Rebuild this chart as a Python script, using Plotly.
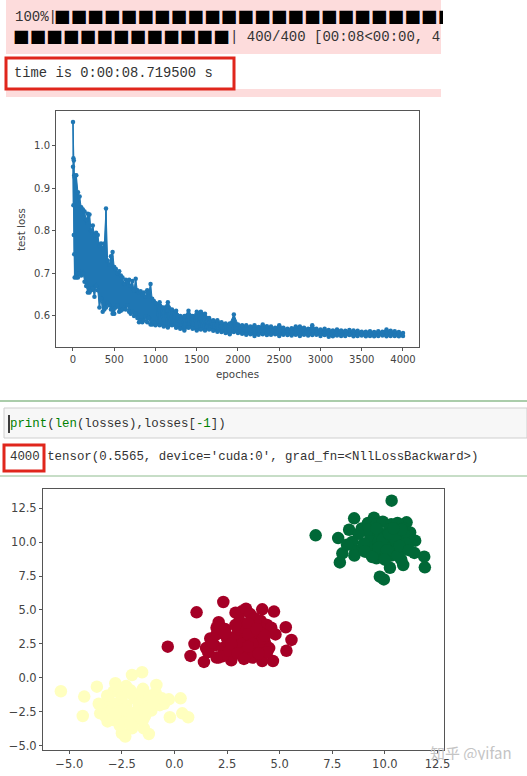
import plotly.graph_objects as go

W, H = 527, 776

loss_epochs = [0, 5, 10, 15, 20, 40, 60, 80, 100, 120, 140, 160, 180, 200, 220, 240, 260, 280, 300, 320,
               340, 360, 380, 400, 420, 440, 460, 480, 500, 520, 540, 560, 580, 600, 620, 640, 660, 680, 700, 720,
               740, 760, 780, 800, 820, 840, 860, 880, 900, 920, 940, 960, 980, 1000,
               1050, 1100, 1150, 1200, 1250, 1300, 1350, 1400, 1450, 1500, 1550, 1600, 1650, 1700, 1750, 1800,
               1850, 1900, 1950, 2000, 2050, 2100, 2150, 2200, 2250, 2300, 2350, 2400, 2450, 2500, 2550, 2600,
               2650, 2700, 2750, 2800, 2850, 2900, 2950, 3000, 3050, 3100, 3150, 3200, 3250, 3300, 3350, 3400,
               3450, 3500, 3550, 3600, 3650, 3700, 3750, 3800, 3850, 3900, 3950, 4000]
loss_high = [1.055, .97, .965, .93, .925, .93, .89, .88, .855, .85, .845, .825, .84, .838, .80, .812, .79, .795, .79, .765,
             .77, .76, .77, .852, .73, .72, .74, .75, .715, .71, .70, .705, .695, .69, .675, .685, .68, .685, .67, .682,
             .66, .687, .66, .655, .658, .65, .655, .645, .66, .655, .675, .64, .635, .63,
             .632, .62, .632, .615, .612, .60, .60, .612, .60, .61, .61, .605, .595, .59, .59, .585,
             .582, .582, .603, .58, .578, .578, .575, .578, .574, .58, .576, .575, .572, .578, .572, .57,
             .571, .575, .575, .572, .57, .578, .57, .568, .57, .567, .566, .568, .566, .565, .567, .566,
             .565, .563, .563, .564, .562, .564, .563, .568, .565, .564, .562, .56]
loss_low = [.95, .86, .79, .745, .69, .69, .69, .70, .695, .70, .68, .67, .655, .655, .66, .665, .645, .67, .66, .62,
            .64, .61, .615, .62, .63, .625, .615, .605, .605, .62, .625, .61, .612, .615, .62, .615, .625, .61, .605, .61,
            .60, .605, .595, .585, .59, .585, .59, .598, .585, .595, .58, .58, .585, .578,
            .578, .575, .573, .578, .572, .57, .566, .572, .57, .566, .568, .566, .568, .565, .563, .562,
            .56, .557, .562, .56, .558, .556, .557, .553, .556, .557, .555, .556, .557, .553, .556, .555,
            .554, .556, .553, .556, .554, .555, .556, .553, .555, .551, .552, .554, .553, .553, .555, .552,
            .553, .554, .552, .553, .552, .553, .554, .552, .553, .553, .552, .553]

loss_ticks_x = [0, 500, 1000, 1500, 2000, 2500, 3000, 3500, 4000]
loss_ticks_y = [0.6, 0.7, 0.8, 0.9, 1.0]

# --- the three clusters ---
yellow_x = [-5.4, -4.36, -4.29, -3.69, -2.81, -2.02, -1.54, -.86, .29, -.27, -.22, .37, .65, -1.22, -1.46, -2.34, -2.5, -2.02, -3.18, -3.53,
            -3.4, -3.1, -2.9, -2.7, -2.5, -2.3, -2.1, -1.9, -1.7, -1.5, -1.3, -1.1, -.9, -.7, -.5,
            -3.3, -3.0, -2.8, -2.6, -2.4, -2.2, -2.0, -1.8, -1.6, -1.4, -1.2, -1.0, -.6,
            -3.6, -3.2, -2.9, -2.6, -2.3, -2.0, -1.7, -1.4, -2.8, -2.4, -2.1, -1.8, -1.5]
yellow_y = [-.98, -2.8, -1.37, -.64, -.39, .22, .42, -.51, -1.5, -1.57, -2.89, -2.6, -2.89, -4.12, -3.7, -4.31, -4.07, -3.7, -3.2, -2.6,
            -2.2, -1.7, -1.0, -.7, -1.4, -2.0, -.9, -1.5, -2.2, -.8, -1.6, -2.4, -1.1, -2.0, -1.9,
            -2.8, -2.4, -1.9, -2.9, -2.3, -3.0, -2.6, -3.1, -1.1, -2.8, -1.3, -1.8, -1.5,
            -1.9, -1.3, -3.1, -3.5, -.6, -1.2, -1.9, -2.3, -2.6, -3.3, -3.4, -2.6, -3.1]

red_x = [-.32, 1.05, 2.32, .76, .95, 1.4, 4.73, 4.17, 5.29, 5.56, 5.32, 4.68, 4.17,
         2.1, 2.0, 2.4, 2.9, 3.2, 3.4, 3.6, 3.8, 4.1, 4.4, 4.2, 4.6, 4.8,
         1.5, 1.7, 1.9, 2.1, 2.3, 2.5, 2.7, 2.9, 3.1, 3.3, 3.5, 3.7, 3.9, 4.1, 4.3, 4.5,
         1.6, 1.8, 2.0, 2.3, 2.6, 2.8, 3.0, 3.2, 3.4, 3.6, 3.8, 4.0, 4.2, 4.4,
         2.0, 2.4, 2.7, 3.1, 3.5, 3.5, 3.9, 4.3, 3.0, 3.3, 3.7, 4.0, 3.5, 2.9]
red_y = [2.3, 4.83, 5.59, 1.62, 2.5, 1.18, 4.88, 5.05, 3.73, 2.8, 2.0, 1.25, 1.25,
         4.1, 3.7, 3.6, 4.8, 4.9, 5.1, 4.7, 4.4, 4.2, 3.9, 3.6, 3.7, 3.2,
         2.2, 2.9, 2.4, 1.5, 2.2, 2.9, 1.3, 2.3, 3.1, 2.0, 2.7, 1.5, 2.2, 3.3, 2.6, 2.2,
         1.9, 2.6, 3.2, 1.6, 2.0, 3.0, 3.6, 2.5, 3.4, 1.9, 3.0, 2.5, 2.9, 1.9,
         1.5, 3.3, 2.5, 4.2, 4.0, 3.2, 3.6, 3.1, 1.8, 1.4, 2.5, 1.8, 2.3, 3.9]

green_x = [10.32, 6.71, 7.78, 8.54, 9.48, 11.03, 7.98, 7.86, 11.87, 11.9, 10.87, 10.24, 9.95, 9.76, 11.44, 10.78, 9.6,
           8.3, 8.45, 8.6, 8.2, 9.1, 8.9, 9.2, 9.6, 9.9, 10.3, 10.6, 10.9, 11.2, 11.1, 11.0, 11.4, 10.7, 10.3, 9.9,
           9.5, 9.3, 9.3, 9.5, 9.8, 10.1, 10.4, 10.7, 10.5, 10.0, 9.7, 9.2, 8.95, 9.35, 10.9, 10.2, 9.9, 10.5,
           8.55, 9.0, 9.7, 10.1, 10.6, 11.0, 10.2, 9.6, 10.8, 9.05, 10.4, 8.75, 9.4, 10.0, 10.7, 11.15]
green_y = [13.04, 10.49, 10.29, 11.74, 11.79, 11.45, 9.17, 8.5, 8.92, 8.14, 8.31, 8.11, 7.25, 7.45, 10.1, 8.7, 8.8,
           10.9, 10.0, 9.3, 9.8, 9.3, 11.0, 11.4, 11.3, 11.5, 11.3, 11.4, 11.0, 10.7, 10.2, 9.6, 9.2, 9.3, 9.0, 9.2,
           9.3, 9.9, 10.5, 10.9, 10.6, 10.2, 10.6, 10.2, 9.8, 9.7, 10.0, 10.9, 9.6, 9.05, 10.6, 10.9, 10.2, 10.2,
           9.0, 9.9, 9.6, 9.4, 9.0, 9.9, 10.6, 11.0, 10.9, 9.3, 11.0, 10.6, 8.9, 8.7, 9.7, 9.4]

scatter_ticks = [-5.0, -2.5, 0.0, 2.5, 5.0, 7.5, 10.0, 12.5]
scatter_ticks_y = [-5.0, -2.5, 0.0, 2.5, 5.0, 7.5, 10.0, 12.5]

# zigzag between high and low to get the solid noisy band
zig_x, zig_y = [], []
for ep, hi, lo in zip(loss_epochs, loss_high, loss_low):
    zig_x += [ep, ep]
    zig_y += [hi, lo]


def px(x):
    return x / W


def py(y):
    return 1 - y / H


fig = go.Figure()
# band under the zigzag so that no white shows between the sparse later pairs
fig.add_trace(go.Scatter(x=loss_epochs + loss_epochs[::-1], y=loss_high + loss_low[::-1], mode="lines", fill="toself",
                         xaxis="x", yaxis="y", fillcolor="#1f77b4", line=dict(color="#1f77b4", width=1)))
fig.add_trace(go.Scatter(x=zig_x, y=zig_y, mode="lines+markers", xaxis="x", yaxis="y",
                         line=dict(color="#1f77b4", width=1.5), marker=dict(color="#1f77b4", size=4.5)))
for xs, ys, col in [(yellow_x, yellow_y, "#ffffbf"), (red_x, red_y, "#a50026"), (green_x, green_y, "#006837")]:
    fig.add_trace(go.Scatter(x=xs, y=ys, mode="markers", xaxis="x2", yaxis="y2",
                             marker=dict(color=col, size=12.5)))

# automargin off: the default template has it on and it shrinks the page
axis_style = dict(showgrid=False, zeroline=False, showline=True, mirror=True, linecolor="#555555", linewidth=1,
                  ticks="outside", ticklen=3, tickcolor="#555555", color="#444444", automargin=False)

shapes = [
    dict(type="rect", x0=6, x1=441, y0=0, y1=54, fillcolor="#fddcdc"),
    dict(type="rect", x0=6, x1=441, y0=89, y1=97, fillcolor="#fddcdc"),
    dict(type="rect", x0=6, x1=234, y0=58, y1=89, fillcolor="white", line=dict(color="#e0261c", width=3)),
    dict(type="line", x0=0, x1=527, y0=401, y1=401, line=dict(color="#8fbc8f", width=1.5)),
    dict(type="rect", x0=4, x1=527, y0=408, y1=438, fillcolor="#f7f7f7", line=dict(color="#cfcfcf", width=1)),
    dict(type="line", x0=9, x1=9, y0=415, y1=433, line=dict(color="black", width=1.5)),
    dict(type="rect", x0=4, x1=44, y0=445, y1=471, line=dict(color="#e0261c", width=3)),
    dict(type="line", x0=0, x1=527, y0=476, y1=476, line=dict(color="#8fbc8f", width=1)),
]
for s in shapes:
    s.update(xref="paper", yref="paper", layer="below")
    s["x0"], s["x1"] = px(s["x0"]), px(s["x1"])
    s["y0"], s["y1"] = py(s["y0"]), py(s["y1"])
    s.setdefault("line", dict(width=0))

MONO = "Liberation Mono"
CJK = "Noto Sans CJK SC"
SANS = "DejaVu Sans"


def label(x, y, text, size=14, color="#333333", family=MONO, width=None, height=None, anchor="left", angle=0):
    return dict(x=px(x), y=py(y), xref="paper", yref="paper", text=text, showarrow=False,
                xanchor=anchor, yanchor="middle", align="left", width=width, height=height, textangle=angle,
                font=dict(family=family, size=size, color=color))


code = ('<span style="color:#008000">print</span>(<span style="color:#008000">len</span>(losses),'
        'losses[<span style="color:#008000">-1</span>])')

annotations = [
    label(13, 17, "100%|", size=14),
    label(52, 17, "■" * 24, size=16.7, color="black", family=CJK, width=389, height=18),
    label(11, 37, "■" * 13, size=16.7, color="black", family=CJK, height=18),
    label(228, 37, "| 400/400 [00:08&lt;00:00, 4", size=14, width=213),
    label(12, 73, "time is 0:00:08.719500 s", size=13.8),
    label(8, 424, code, size=12.4),
    label(8, 457, "4000 tensor(0.5565, device='cuda:0', grad_fn=&lt;NllLossBackward&gt;)", size=12.4),
    label(428, 752, "知乎 @yifan", size=15, color="#c4c4c4", family=CJK, height=16),
    label(237, 374, "epoches", size=10.3, color="#444444", family=SANS, anchor="center"),
    label(21, 230, "test loss", size=10.3, color="#444444", family=SANS, anchor="center", angle=-90),
]

fig.update_layout(
    width=W, height=H, margin=dict(l=0, r=0, t=0, b=0), showlegend=False,
    paper_bgcolor="white", plot_bgcolor="rgba(0,0,0,0)",
    font=dict(family=SANS, color="#444444"),
    xaxis=dict(domain=[px(56), px(419)], range=[-206, 4194], tickvals=loss_ticks_x, anchor="y",
               tickfont=dict(size=10), **axis_style),
    yaxis=dict(domain=[py(347), py(111)], range=[0.527, 1.081], tickvals=loss_ticks_y, tickformat=".1f", anchor="x",
               tickfont=dict(size=10), **axis_style),
    xaxis2=dict(domain=[px(43), px(444)], range=[-6.25, 12.81], tickvals=scatter_ticks, tickformat=".1f", anchor="y2",
                tickfont=dict(size=11.5), **axis_style),
    yaxis2=dict(domain=[py(750), py(489)], range=[-5.3, 13.9], tickvals=scatter_ticks_y, tickformat=".1f", anchor="x2",
                tickfont=dict(size=11.5), **axis_style),
    shapes=shapes, annotations=annotations,
)

fig.write_html("out.html", config=dict(displayModeBar=False),
               post_script="document.body.style.margin='0';document.documentElement.style.overflow='hidden';")
